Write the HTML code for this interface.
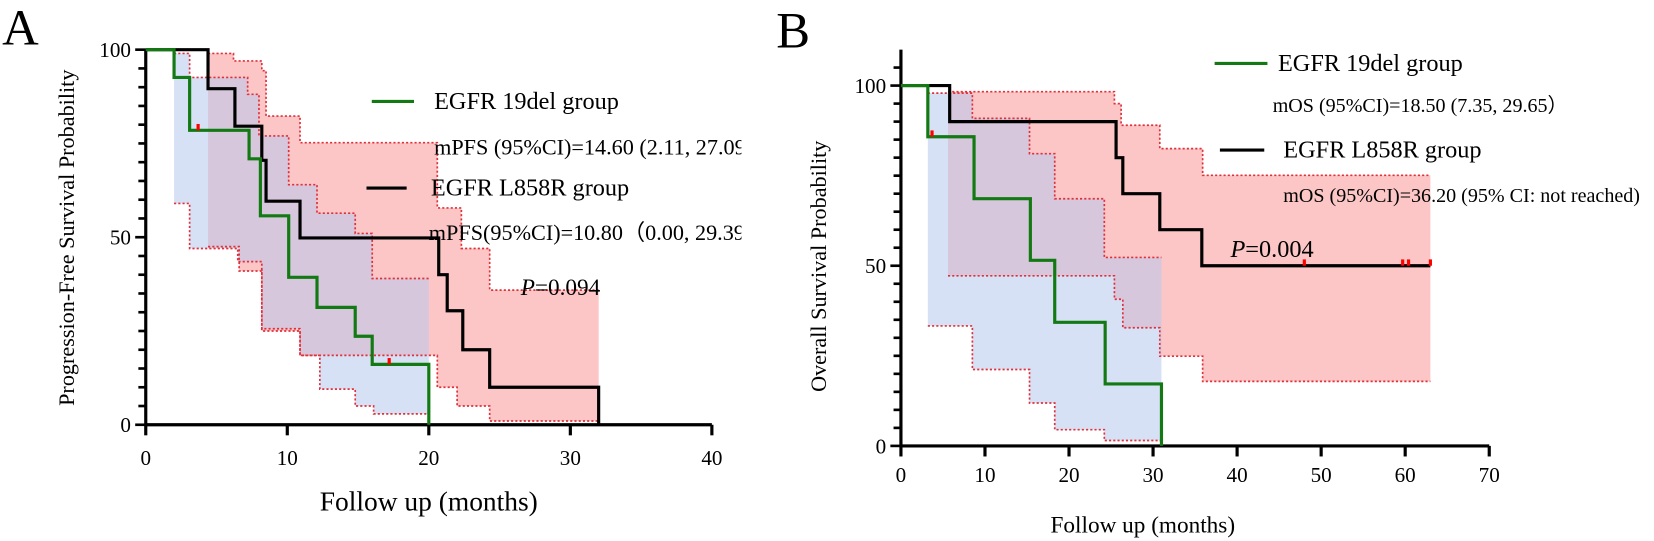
<!DOCTYPE html>
<html><head><meta charset="utf-8"><style>
html,body{margin:0;padding:0;background:#fff;}
body{position:relative;width:1654px;height:541px;overflow:hidden;}
svg{display:block;font-family:"Liberation Serif",serif;}
</style></head><body>
<svg id="fig" width="1654" height="541" viewBox="0 0 1566 512" preserveAspectRatio="none" style="position:absolute;left:0;top:0;">
<g id="panelA"></g>
<g id="panelB"></g>
</svg>
<script>
// ---------- Panel A data (months, % survival) ----------
const aDelSteps = [[0,100],[2.0,92.6],[3.1,78.5],[7.3,70.9],[8.1,55.7],[10.1,39.3],[12.1,31.3],[14.8,23.6],[16.0,16.1],[20.0,0]];
const aDelEnd = 20.0;
const aDelCensor = [[3.7,78.5],[17.2,16.1]];
const aL858Steps = [[0,100],[4.4,89.6],[6.3,79.6],[8.2,70.5],[8.5,59.6],[10.9,49.8],[20.7,40],[21.3,30.4],[22.4,20],[24.3,10],[32.0,0]];
const aL858End = 32.0;
const aDelUpper = [[2.0,99],[3.1,92.6],[7.2,88.1],[8.0,77],[10.1,64],[12.1,56.4],[14.8,51],[16.0,39]];
const aDelLower = [[2.0,59],[3.1,47],[6.5,43.5],[8.2,25.6],[10.9,18.5],[12.3,9.5],[14.8,5],[16.1,2.9]];
const aL858Upper = [[4.4,99],[6.2,97],[8.2,94.4],[8.5,82.3],[10.9,75.2],[20.6,57.8],[22.3,47],[24.3,35.9]];
const aL858Lower = [[4.4,47.5],[6.6,41],[8.2,25],[10.9,18.5],[20.6,10],[22.0,5],[24.3,1]];
const aXTicks = [0,10,20,30,40];
const aYTicks = [0,50,100];

// ---------- Panel B data ----------
const bDelSteps = [[0,100],[3.2,85.8],[8.7,68.6],[15.4,51.5],[18.3,34.3],[24.3,17.2],[31.0,0]];
const bDelEnd = 31.0;
const bDelCensor = [[3.7,85.8]];
const bL858Steps = [[0,100],[5.8,90],[25.6,80],[26.4,70],[30.8,60],[35.8,50]];
const bL858End = 63.0;
const bL858Censor = [[48,50],[59.7,50],[60.4,50],[63,50]];
const bDelUpper = [[3.2,97.9],[8.5,90.9],[15.3,81.1],[18.3,68.6],[24.2,52.3]];
const bDelLower = [[3.2,33.3],[8.5,21.2],[15.3,11.9],[18.3,4.5],[24.2,1.5]];
const bL858Upper = [[5.6,98.3],[25.4,95],[26.2,89],[30.8,82.5],[35.9,75.1]];
const bL858Lower = [[5.6,47.2],[25.4,40.7],[26.4,32.8],[30.8,24.9],[35.9,17.9]];
const bXTicks = [0,10,20,30,40,50,60,70];
const bYTicks = [0,50,100];

const NS = "http://www.w3.org/2000/svg";
function mk(parent, tag, attrs, text){
  const e = document.createElementNS(NS, tag);
  for (const k in attrs) e.setAttribute(k, attrs[k]);
  if (text !== undefined) e.textContent = text;
  parent.appendChild(e);
  return e;
}
function stepPath(steps, end, sx, sy){
  let d = "M" + sx(steps[0][0]) + "," + sy(steps[0][1]);
  for (let i = 1; i < steps.length; i++){
    d += " H" + sx(steps[i][0]) + " V" + sy(steps[i][1]);
  }
  d += " H" + sx(end);
  return d;
}
function bandPath(up, lo, end, sx, sy){
  let d = "M" + sx(up[0][0]) + "," + sy(up[0][1]);
  for (let i = 1; i < up.length; i++) d += " H" + sx(up[i][0]) + " V" + sy(up[i][1]);
  d += " H" + sx(end) + " V" + sy(lo[lo.length-1][1]);
  for (let i = lo.length-1; i >= 1; i--) d += " H" + sx(lo[i][0]) + " V" + sy(lo[i-1][1]);
  d += " H" + sx(lo[0][0]) + " Z";
  return d;
}
function edgePath(arr, end, sx, sy){
  let d = "M" + sx(arr[0][0]) + "," + sy(arr[0][1]);
  for (let i = 1; i < arr.length; i++) d += " H" + sx(arr[i][0]) + " V" + sy(arr[i][1]);
  d += " H" + sx(end);
  return d;
}

function drawPanel(g, cfg){
  const sx = v => cfg.x0 + (v - cfg.xmin) * (cfg.x1 - cfg.x0) / (cfg.xmax - cfg.xmin);
  const sy = v => cfg.y0 - v * (cfg.y0 - cfg.y100) / 100;
  const b1 = mk(g, "path", {d: bandPath(cfg.l858U, cfg.l858L, cfg.l858End, sx, sy), fill:"#fbb8b8", "fill-opacity":"0.8"});
  
  
  const b2 = mk(g, "path", {d: bandPath(cfg.delU, cfg.delL, cfg.delEnd, sx, sy), fill:"#b7c9ef", "fill-opacity":"0.55"});
  
  
  [[cfg.l858U,cfg.l858End],[cfg.l858L,cfg.l858End],[cfg.delU,cfg.delEnd],[cfg.delL,cfg.delEnd]].forEach(p => {
    const e = mk(g, "path", {d: edgePath(p[0], p[1], sx, sy), fill:"none", stroke:"#e0303a", "stroke-width":"1.6", "stroke-dasharray":"2,2"});
    
    
  });
  const ax = mk(g, "g", {});
  
  
  mk(ax, "line", {x1:sx(cfg.xmin), y1:sy(0), x2:sx(cfg.xmax), y2:sy(0), stroke:"#000", "stroke-width":"3"});
  mk(ax, "line", {x1:sx(cfg.xmin), y1:sy(0), x2:sx(cfg.xmin), y2:cfg.axisTop, stroke:"#000", "stroke-width":"3"});
  for (let v = 0; v <= 100; v += 5){
    const major = v % 50 === 0;
    mk(ax, "line", {x1:sx(cfg.xmin) - (major?10:7), y1:sy(v), x2:sx(cfg.xmin), y2:sy(v), stroke:"#000", "stroke-width":"2.5"});
  }
  if (cfg.axisTop < sy(100) - 5){
    for (let v = 105; sy(v) >= cfg.axisTop; v += 5)
      mk(ax, "line", {x1:sx(cfg.xmin)-7, y1:sy(v), x2:sx(cfg.xmin), y2:sy(v), stroke:"#000", "stroke-width":"2.5"});
  }
  cfg.yTicks.forEach(v => {
    const t = mk(ax, "text", {x:sx(cfg.xmin)-14, y:sy(v)+7, "text-anchor":"end", "font-size":cfg.tickFs}, String(v));
    
    
  });
  cfg.xTicks.forEach(v => {
    mk(ax, "line", {x1:sx(v), y1:sy(0), x2:sx(v), y2:sy(0)+10, stroke:"#000", "stroke-width":"3"});
    const t = mk(ax, "text", {x:sx(v), y:sy(0)+cfg.xLabOff, "text-anchor":"middle", "font-size":cfg.tickFs}, String(v));
    
    
  });
  const c1 = mk(g, "path", {d: stepPath(cfg.l858, cfg.l858End, sx, sy), fill:"none", stroke:"#000", "stroke-width":"3"});
  
  
  const c2 = mk(g, "path", {d: stepPath(cfg.del, cfg.delEnd, sx, sy), fill:"none", stroke:"#137a13", "stroke-width":"3"});
  
  
  cfg.censors.forEach(c => {
    const m = mk(g, "rect", {x:sx(c[0])-1.5, y:sy(c[1])-6, width:3, height:6, fill:"#ff0000"});
    
    
  });
}

drawPanel(document.getElementById("panelA"), {x0:138, x1:674, xmin:0, xmax:40, y0:402, y100:47, axisTop:47,
  del:aDelSteps, delEnd:aDelEnd, l858:aL858Steps, l858End:aL858End,
  delU:aDelUpper, delL:aDelLower, l858U:aL858Upper, l858L:aL858Lower,
  xTicks:aXTicks, yTicks:aYTicks, censors:aDelCensor, tickFs:20, xLabOff:38});
drawPanel(document.getElementById("panelB"), {x0:853, x1:1410, xmin:0, xmax:70, y0:422, y100:81, axisTop:47,
  del:bDelSteps, delEnd:bDelEnd, l858:bL858Steps, l858End:bL858End,
  delU:bDelUpper, delL:bDelLower, l858U:bL858Upper, l858L:bL858Lower,
  xTicks:bXTicks, yTicks:bYTicks, censors:bDelCensor.concat(bL858Censor), tickFs:20, xLabOff:34});
</script>
<svg width="1654" height="541" viewBox="0 0 1566 512" preserveAspectRatio="none" style="position:absolute;left:0;top:0;font-family:'Liberation Serif',serif;">
  <defs><clipPath id="clipA2"><rect x="0" y="0" width="702" height="541"/></clipPath></defs>
  <text x="2" y="42" font-size="48">A</text>
  <text transform="translate(70,225) rotate(-90)" text-anchor="middle" font-size="21">Progression-Free Survival Probability</text>
  <text x="406" y="483" text-anchor="middle" font-size="26">Follow up (months)</text>
  <g clip-path="url(#clipA2)">
    <line x1="352" y1="96" x2="392" y2="96" stroke="#137a13" stroke-width="3"/>
    <text x="411" y="103" font-size="23">EGFR 19del group</text>
    <text x="411" y="146" font-size="21">mPFS (95%CI)=14.60 (2.11, 27.09)</text>
    <line x1="347" y1="178" x2="385" y2="178" stroke="#000" stroke-width="3"/>
    <text x="408" y="185" font-size="23">EGFR L858R group</text>
    <text x="406" y="227" font-size="21">mPFS(95%CI)=10.80（0.00, 29.39）</text>
    <text x="493" y="279" font-size="22"><tspan font-style="italic">P</tspan>=0.094</text>
  </g>
  <text x="735" y="45" font-size="48">B</text>
  <text transform="translate(782,252) rotate(-90)" text-anchor="middle" font-size="21">Overall Survival Probability</text>
  <text x="1082" y="504" text-anchor="middle" font-size="22">Follow up (months)</text>
  <line x1="1150" y1="60" x2="1200" y2="60" stroke="#137a13" stroke-width="3"/>
  <text x="1210" y="67" font-size="23">EGFR 19del group</text>
  <text x="1205" y="106" font-size="19">mOS (95%CI)=18.50 (7.35, 29.65）</text>
  <line x1="1155" y1="142" x2="1197" y2="142" stroke="#000" stroke-width="3"/>
  <text x="1215" y="149" font-size="23">EGFR L858R group</text>
  <text x="1215" y="191" font-size="19">mOS (95%CI)=36.20 (95% CI: not reached)</text>
  <text x="1165" y="243" font-size="23"><tspan font-style="italic">P</tspan>=0.004</text>
</svg>
</body></html>
